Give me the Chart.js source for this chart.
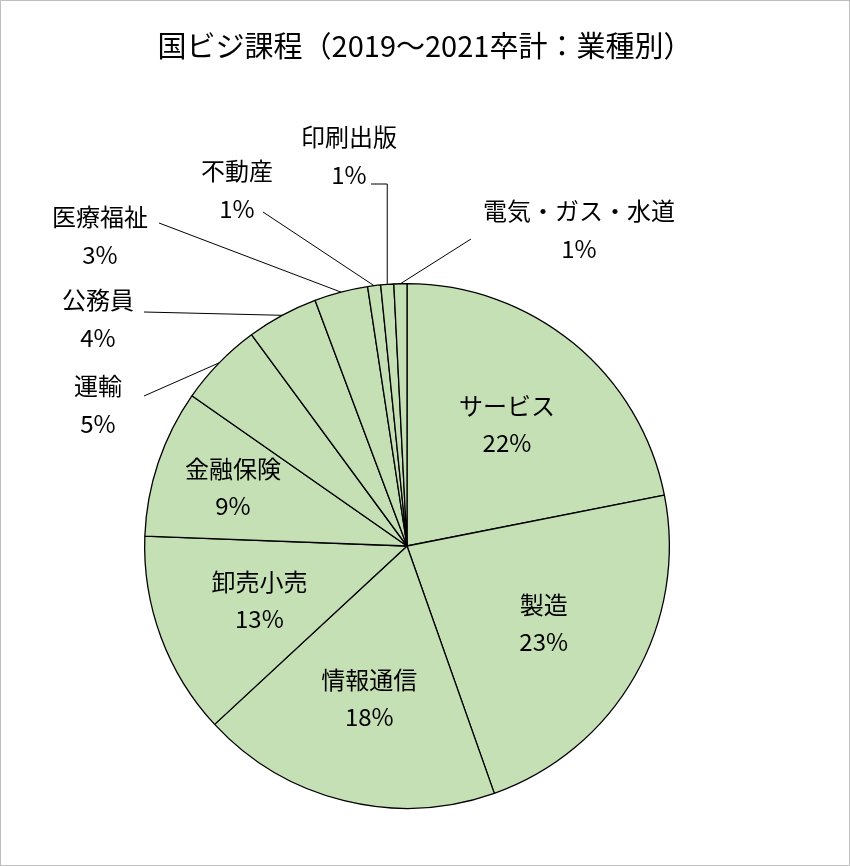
<!DOCTYPE html>
<html>
<head>
<meta charset="utf-8">
<script src="https://cdn.jsdelivr.net/npm/chart.js@4"></script>
<style>
  html, body { margin: 0; padding: 0; background: #fff; }
  #wrap { width: 848px; height: 864px; border: 1px solid #bfbfbf; }
</style>
</head>
<body>
<div id="wrap"><canvas id="pie" width="848" height="864"></canvas></div>
<script>
// 業種別 (2019～2021 卒計)
const industries = ['サービス', '製造', '情報通信', '卸売小売', '金融保険', '運輸', '公務員', '医療福祉', '不動産', '印刷出版', '電気・ガス・水道'];
const shares = [21.9, 22.7, 18.5, 12.5, 9.1, 5.2, 4.4, 3.3, 0.8, 0.8, 0.8];
const shareLabels = ['22%', '23%', '18%', '13%', '9%', '5%', '4%', '3%', '1%', '1%', '1%'];

const FONT = '"Noto Sans CJK JP", "Noto Sans", sans-serif';

// outside label anchors (text centre) for the small slices, keyed by index
const outside = {
    5: { x: 97, y: 385, lx: 143, ly: 395 },
    6: { x: 97, y: 299, lx: 143, ly: 311 },
    7: { x: 99, y: 216, lx: 158, ly: 222 },
    8: { x: 236, y: 170, lx: 262, ly: 211 },
    9: { x: 348, y: 136, lx: 370, ly: 183, elbow: true },
    10: { x: 578, y: 210, lx: 470, ly: 238 }
};

const labelPlugin = {
    id: 'pieLabels',
    afterDatasetsDraw(chart) {
        const ctx = chart.ctx;
        const arcs = chart.getDatasetMeta(0).data;
        ctx.save();
        ctx.fillStyle = '#000';
        ctx.textAlign = 'center';
        ctx.textBaseline = 'middle';
        ctx.font = '29px ' + FONT;
        ctx.fillText('国ビジ課程（2019～2021卒計：業種別）', 424, 45);
        ctx.font = '24px ' + FONT;
        arcs.forEach((arc, i) => {
            const p = arc.getProps(['x', 'y', 'startAngle', 'endAngle', 'outerRadius']);
            const mid = (p.startAngle + p.endAngle) / 2;
            const o = outside[i];
            if (!o) {
                const r = p.outerRadius * (i === 4 ? 0.7 : 0.6);
                const cx = p.x + Math.cos(mid) * r, cy = p.y + Math.sin(mid) * r;
                ctx.fillText(industries[i], cx, cy - 19);
                ctx.fillText(shareLabels[i], cx, cy + 18);
                return;
            }
            ctx.fillText(industries[i], o.x, o.y);
            ctx.fillText(shareLabels[i], o.x, o.y + 38);
            const ex = p.x + Math.cos(mid) * p.outerRadius;
            const ey = p.y + Math.sin(mid) * p.outerRadius;
            ctx.strokeStyle = '#000';
            ctx.lineWidth = 1;
            ctx.beginPath();
            ctx.moveTo(o.lx, o.ly);
            if (o.elbow) ctx.lineTo(ex, o.ly);
            ctx.lineTo(ex, ey);
            ctx.stroke();
        });
        ctx.restore();
    }
};

new Chart(document.getElementById('pie'), {
    type: 'pie',
    data: {
        labels: industries,
        datasets: [{
            data: shares,
            backgroundColor: '#C5E0B4',
            borderColor: '#000',
            borderWidth: 1.3
        }]
    },
    options: {
        responsive: false,
        animation: false,
        layout: { padding: { left: 143, right: 179, top: 282, bottom: 56 } },
        plugins: { legend: { display: false }, tooltip: { enabled: false } }
    },
    plugins: [labelPlugin]
});
</script>
</body>
</html>
